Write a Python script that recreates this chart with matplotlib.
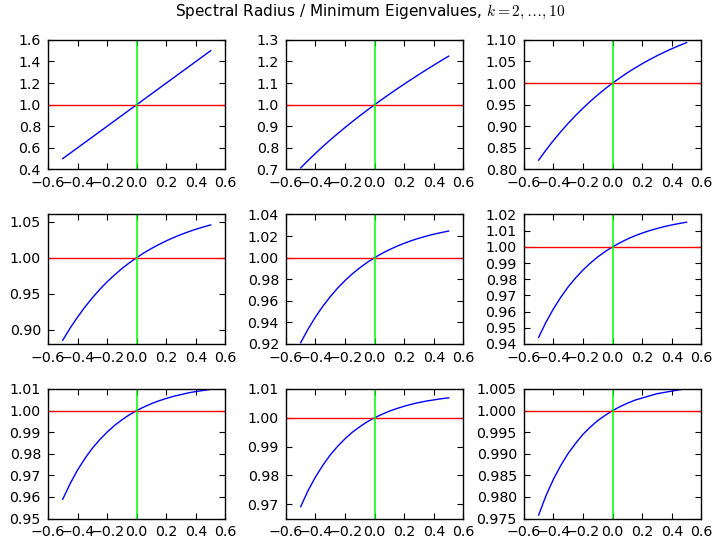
import matplotlib
matplotlib.use("Agg")
import matplotlib.pyplot as plt

# perturbation parameter on the x axis
x_vals = [-0.50, -0.45, -0.40, -0.35, -0.30, -0.25, -0.20, -0.15, -0.10, -0.05, 0.00,
          0.05, 0.10, 0.15, 0.20, 0.25, 0.30, 0.35, 0.40, 0.45, 0.50]

# spectral radius / minimum eigenvalue for k = 2..10
y_k2 = [0.500, 0.550, 0.600, 0.650, 0.700, 0.750, 0.800, 0.850, 0.900, 0.950, 1.000,
        1.050, 1.100, 1.150, 1.200, 1.250, 1.300, 1.350, 1.400, 1.450, 1.500]
y_k3 = [0.7071, 0.7416, 0.7746, 0.8062, 0.8367, 0.8660, 0.8944, 0.9220, 0.9487, 0.9747, 1.0000,
        1.0247, 1.0488, 1.0724, 1.0954, 1.1180, 1.1402, 1.1619, 1.1832, 1.2042, 1.2247]
y_k4 = [0.8216, 0.8450, 0.8670, 0.8876, 0.9069, 0.9250, 0.9420, 0.9579, 0.9729, 0.9869, 1.0000,
        1.0123, 1.0239, 1.0347, 1.0449, 1.0544, 1.0633, 1.0717, 1.0795, 1.0869, 1.0938]
y_k5 = [0.8852, 0.9020, 0.9173, 0.9313, 0.9440, 0.9557, 0.9663, 0.9759, 0.9847, 0.9927, 1.0000,
        1.0067, 1.0127, 1.0182, 1.0233, 1.0279, 1.0321, 1.0359, 1.0394, 1.0425, 1.0454]
y_k6 = [0.9212, 0.9338, 0.9450, 0.9550, 0.9638, 0.9718, 0.9788, 0.9851, 0.9906, 0.9956, 1.0000,
        1.0039, 1.0074, 1.0105, 1.0133, 1.0158, 1.0180, 1.0199, 1.0217, 1.0232, 1.0246]
y_k7 = [0.9441, 0.9535, 0.9617, 0.9689, 0.9753, 0.9808, 0.9857, 0.9900, 0.9938, 0.9971, 1.0000,
        1.0025, 1.0048, 1.0068, 1.0085, 1.0100, 1.0113, 1.0125, 1.0135, 1.0144, 1.0152]
y_k8 = [0.9589, 0.9661, 0.9724, 0.9778, 0.9825, 0.9865, 0.9900, 0.9931, 0.9957, 0.9980, 1.0000,
        1.0017, 1.0032, 1.0045, 1.0056, 1.0066, 1.0074, 1.0082, 1.0088, 1.0093, 1.0098]
y_k9 = [0.9691, 0.9747, 0.9794, 0.9835, 0.9871, 0.9901, 0.9927, 0.9950, 0.9969, 0.9986, 1.0000,
        1.0012, 1.0023, 1.0032, 1.0040, 1.0047, 1.0053, 1.0058, 1.0062, 1.0066, 1.0069]
y_k10 = [0.9758, 0.9803, 0.9841, 0.9873, 0.9901, 0.9924, 0.9945, 0.9962, 0.9977, 0.9989, 1.0000,
         1.0009, 1.0017, 1.0024, 1.0029, 1.0034, 1.0039, 1.0042, 1.0045, 1.0048, 1.0050]

x_ticks = [-0.6, -0.4, -0.2, 0.0, 0.2, 0.4, 0.6]
yticks_k2 = [0.4, 0.6, 0.8, 1.0, 1.2, 1.4, 1.6]
yticks_k3 = [0.7, 0.8, 0.9, 1.0, 1.1, 1.2, 1.3]
yticks_k4 = [0.80, 0.85, 0.90, 0.95, 1.00, 1.05, 1.10]
yticks_k5 = [0.90, 0.95, 1.00, 1.05]
yticks_k6 = [0.92, 0.94, 0.96, 0.98, 1.00, 1.02, 1.04]
yticks_k7 = [0.94, 0.95, 0.96, 0.97, 0.98, 0.99, 1.00, 1.01, 1.02]
yticks_k8 = [0.95, 0.96, 0.97, 0.98, 0.99, 1.00, 1.01]
yticks_k9 = [0.97, 0.98, 0.99, 1.00, 1.01]
yticks_k10 = [0.975, 0.980, 0.985, 0.990, 0.995, 1.000, 1.005]

curves = [y_k2, y_k3, y_k4, y_k5, y_k6, y_k7, y_k8, y_k9, y_k10]
ticks = [yticks_k2, yticks_k3, yticks_k4, yticks_k5, yticks_k6,
         yticks_k7, yticks_k8, yticks_k9, yticks_k10]
ylims = [(0.4, 1.6), (0.7, 1.3), (0.8, 1.1), (0.88, 1.06), (0.92, 1.04),
         (0.94, 1.02), (0.95, 1.01), (0.965, 1.01), (0.975, 1.005)]

plt.rcParams["font.family"] = "DejaVu Sans"
plt.rcParams["font.size"] = 10.2
plt.rcParams["mathtext.fontset"] = "cm"
plt.rcParams["axes.formatter.useoffset"] = False
plt.rcParams["xtick.direction"] = "in"
plt.rcParams["ytick.direction"] = "in"
plt.rcParams["xtick.top"] = True
plt.rcParams["ytick.right"] = True
plt.rcParams["xtick.major.size"] = 4
plt.rcParams["ytick.major.size"] = 4
plt.rcParams["xtick.major.pad"] = 5
plt.rcParams["ytick.major.pad"] = 5
plt.rcParams["axes.linewidth"] = 1.0

fig, axes = plt.subplots(3, 3, figsize=(7.15, 5.39), dpi=100)
fig.subplots_adjust(left=0.067, right=0.981, top=0.926, bottom=0.038,
                    wspace=0.34, hspace=0.347)

for ax, ys, yt, yl in zip(axes.flat, curves, ticks, ylims):
    ax.plot(x_vals, ys, color="#0000ff", lw=1)
    ax.axhline(1.0, color="#ff0000", lw=1)
    ax.axvline(0.0, color="#00ff00", lw=1.1)
    ax.set_xlim(-0.6, 0.6)
    ax.set_xticks(x_ticks)
    ax.set_yticks(yt)
    ax.set_ylim(*yl)

fig.suptitle(r"Spectral Radius / Minimum Eigenvalues, $k=2,\ldots,10$",
             fontsize=11, x=0.518, y=0.995)

fig.savefig("out.png", dpi=100)
